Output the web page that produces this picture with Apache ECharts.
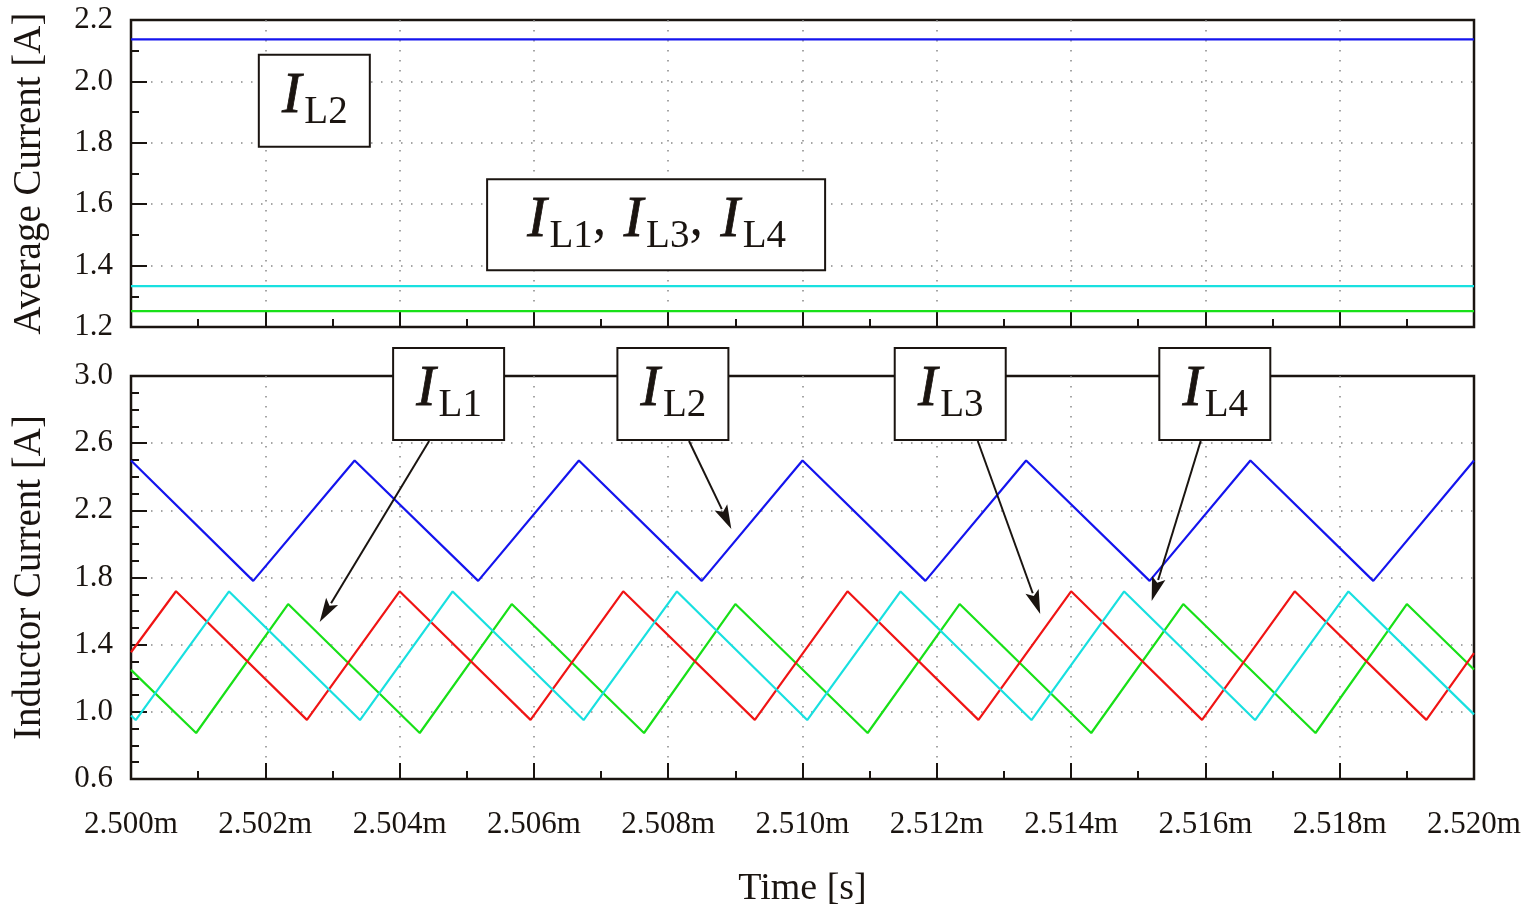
<!DOCTYPE html>
<html><head><meta charset="utf-8">
<script src="https://cdn.jsdelivr.net/npm/echarts@6/dist/echarts.min.js"></script>
<style>html,body{margin:0;padding:0;background:#fff}#c{width:1532px;height:906px}</style>
</head><body><div id="c"></div>
<script>
// ---- data (time in ms, current in A) ----
const avgTime = [2.500, 2.520];
const avgIL1 = [1.252, 1.252];
const avgIL2 = [2.137, 2.137];
const avgIL3 = [1.3335, 1.3335];
const avgIL4 = [1.333, 1.333];

const il1Time = [2.500, 2.50097, 2.50234, 2.50430, 2.50567, 2.50764, 2.50900, 2.51097, 2.51234, 2.51430, 2.51567, 2.51764, 2.51900, 2.520];
const il1Current = [1.250, 0.874, 1.642, 0.874, 1.642, 0.874, 1.642, 0.874, 1.642, 0.874, 1.642, 0.874, 1.642, 1.252];

const il2Time = [2.500, 2.50182, 2.50333, 2.50517, 2.50667, 2.50850, 2.51000, 2.51183, 2.51333, 2.51517, 2.51667, 2.51850, 2.520];
const il2Current = [2.497, 1.780, 2.497, 1.780, 2.497, 1.780, 2.497, 1.780, 2.497, 1.780, 2.497, 1.780, 2.497];

const il3Time = [2.500, 2.50067, 2.50262, 2.50400, 2.50595, 2.50733, 2.50929, 2.51067, 2.51262, 2.51400, 2.51595, 2.51733, 2.51929, 2.520];
const il3Current = [1.355, 1.718, 0.952, 1.718, 0.952, 1.718, 0.952, 1.718, 0.952, 1.718, 0.952, 1.718, 0.952, 1.350];

const il4Time = [2.500, 2.50007, 2.50146, 2.50341, 2.50479, 2.50674, 2.50813, 2.51007, 2.51146, 2.51341, 2.51479, 2.51674, 2.51813, 2.520];
const il4Current = [0.978, 0.951, 1.717, 0.951, 1.717, 0.951, 1.717, 0.951, 1.717, 0.951, 1.717, 0.951, 1.717, 0.985];

const seriesNames = ['IL1', 'IL2', 'IL3', 'IL4'];

// ---- styling ----
const FONT = 'Liberation Serif';
const INK = '#1a1410';
const COLORS = {IL1: '#18e018', IL2: '#1414ee', IL3: '#f01414', IL4: '#18e0e0'};

function pairs(t, v) { return t.map((x, i) => [x, v[i]]); }

const gridLine = {show: true, showMinLine: false, showMaxLine: false,
  lineStyle: {color: '#888', width: 1.5, type: [1.5, 8.5]}};

function xAxisCfg(gridIndex, showLabels) {
  return {
    type: 'value', gridIndex, min: 2.5, max: 2.52, interval: 0.002,
    axisLine: {show: true, onZero: false, lineStyle: {color: INK, width: 2}},
    axisTick: {show: true, inside: true, length: 16, lineStyle: {color: INK, width: 2}},
    minorTick: {show: true, splitNumber: 2, length: 8, lineStyle: {color: INK, width: 2}},
    splitLine: gridLine,
    axisLabel: {show: showLabels, color: INK, fontFamily: FONT, fontSize: 31, margin: 30,
      formatter: v => v.toFixed(3) + 'm'},
    name: showLabels ? 'Time [s]' : '', nameLocation: 'middle', nameGap: 91,
    nameTextStyle: {color: INK, fontFamily: FONT, fontSize: 38}
  };
}
function yAxisCfg(gridIndex, min, max, interval, minorSplit, name) {
  return {
    type: 'value', gridIndex, min, max, interval,
    axisLine: {show: true, lineStyle: {color: INK, width: 2}},
    axisTick: {show: true, inside: true, length: 16, lineStyle: {color: INK, width: 2}},
    minorTick: {show: true, splitNumber: minorSplit, length: 8, lineStyle: {color: INK, width: 2}},
    splitLine: gridLine,
    axisLabel: {color: INK, fontFamily: FONT, fontSize: 31, margin: 18, formatter: v => v.toFixed(1)},
    name, nameLocation: 'middle', nameGap: 82,
    nameTextStyle: {color: INK, fontFamily: FONT, fontSize: 39}
  };
}
function lineSeries(name, gridIndex, data) {
  return {
    name, type: 'line', xAxisIndex: gridIndex, yAxisIndex: gridIndex, data,
    showSymbol: false, symbol: 'none', animation: false,
    lineStyle: {color: COLORS[name], width: 2.2}, itemStyle: {color: COLORS[name]}
  };
}

const avgData = {IL1: avgIL1, IL2: avgIL2, IL3: avgIL3, IL4: avgIL4};
const waveData = {IL1: [il1Time, il1Current], IL2: [il2Time, il2Current], IL3: [il3Time, il3Current], IL4: [il4Time, il4Current]};

const option = {
  backgroundColor: '#fff',
  animation: false,
  grid: [
    {left: 131, right: 58, top: 20, height: 307, show: true, borderColor: INK, borderWidth: 2.5,
     containLabel: false, outerBoundsMode: 'none'},
    {left: 131, right: 58, top: 376, height: 403, show: true, borderColor: INK, borderWidth: 2.5,
     containLabel: false, outerBoundsMode: 'none'}
  ],
  xAxis: [xAxisCfg(0, false), xAxisCfg(1, true)],
  yAxis: [
    yAxisCfg(0, 1.2, 2.2, 0.2, 2, 'Average Current [A]'),
    yAxisCfg(1, 0.6, 3.0, 0.4, 4, 'Inductor Current [A]')
  ],
  series: [
    ...['IL1', 'IL2', 'IL3', 'IL4'].map(n => lineSeries(n, 0, pairs(avgTime, avgData[n]))),
    ...seriesNames.map(n => lineSeries(n, 1, pairs(waveData[n][0], waveData[n][1])))
  ]
};

const chart = echarts.init(document.getElementById('c'));
chart.setOption(option);

// ---- annotations (in data coordinates) ----
const boxes = [
  {grid: 0, subs: ['L2'], t: 2.50273, v: 1.937, w: 111, h: 92},
  {grid: 0, subs: ['L1', 'L3', 'L4'], t: 2.50782, v: 1.533, w: 338, h: 91},
  {grid: 1, subs: ['L1'], t: 2.50473, v: 2.893, w: 111, h: 92},
  {grid: 1, subs: ['L2'], t: 2.50807, v: 2.893, w: 111, h: 92},
  {grid: 1, subs: ['L3'], t: 2.51220, v: 2.893, w: 111, h: 92},
  {grid: 1, subs: ['L4'], t: 2.51614, v: 2.893, w: 111, h: 92}
];
const arrows = [
  {from: [2.50444, 2.613], to: [2.50281, 1.535]},
  {from: [2.50831, 2.613], to: [2.50894, 2.089]},
  {from: [2.51261, 2.613], to: [2.51354, 1.583]},
  {from: [2.51593, 2.613], to: [2.51520, 1.660]}
];

function px(g, p) { return chart.convertToPixel({xAxisIndex: g, yAxisIndex: g}, p); }
const rich = {
  i: {fontFamily: FONT, fontStyle: 'italic', fontSize: 58, lineHeight: 58, fill: INK, padding: [0, 3, 0, 1],
      stroke: INK, lineWidth: 0.8},
  s: {fontFamily: FONT, fontSize: 39, lineHeight: 39, fill: INK, padding: [32, 0, 0, 0]},
  n: {fontFamily: FONT, fontSize: 54, lineHeight: 54, fill: INK, padding: [0, 3, 0, 0]}
};
const graphics = [];
arrows.forEach(a => {
  const s = px(1, a.from), e = px(1, a.to);
  const dx = e[0] - s[0], dy = e[1] - s[1], len = Math.hypot(dx, dy);
  const ux = dx / len, uy = dy / len, L = 24, W = 7;
  const bx = e[0] - ux * L, by = e[1] - uy * L;
  graphics.push({type: 'line', z: 100, shape: {x1: s[0], y1: s[1], x2: bx + ux * 2, y2: by + uy * 2},
    style: {stroke: INK, lineWidth: 2}});
  graphics.push({type: 'polygon', z: 100, shape: {points: [[e[0], e[1]], [bx - uy * W, by + ux * W], [bx + ux * 5, by + uy * 5], [bx + uy * W, by - ux * W]]},
    style: {fill: INK}});
});
boxes.forEach(b => {
  const c = px(b.grid, [b.t, b.v]);
  graphics.push({type: 'rect', z: 101, shape: {x: c[0] - b.w / 2, y: c[1] - b.h / 2, width: b.w, height: b.h},
    style: {fill: '#fff', stroke: INK, lineWidth: 2}});
  const txt = b.subs.map(sb => '{i|I}{s|' + sb + '}').join('{n|, }');
  graphics.push({type: 'text', z: 102, x: c[0], y: c[1] - 4,
    style: {text: txt, rich, align: 'center', verticalAlign: 'middle', fill: INK}});
});
chart.setOption({graphic: graphics});
</script>
</body></html>
